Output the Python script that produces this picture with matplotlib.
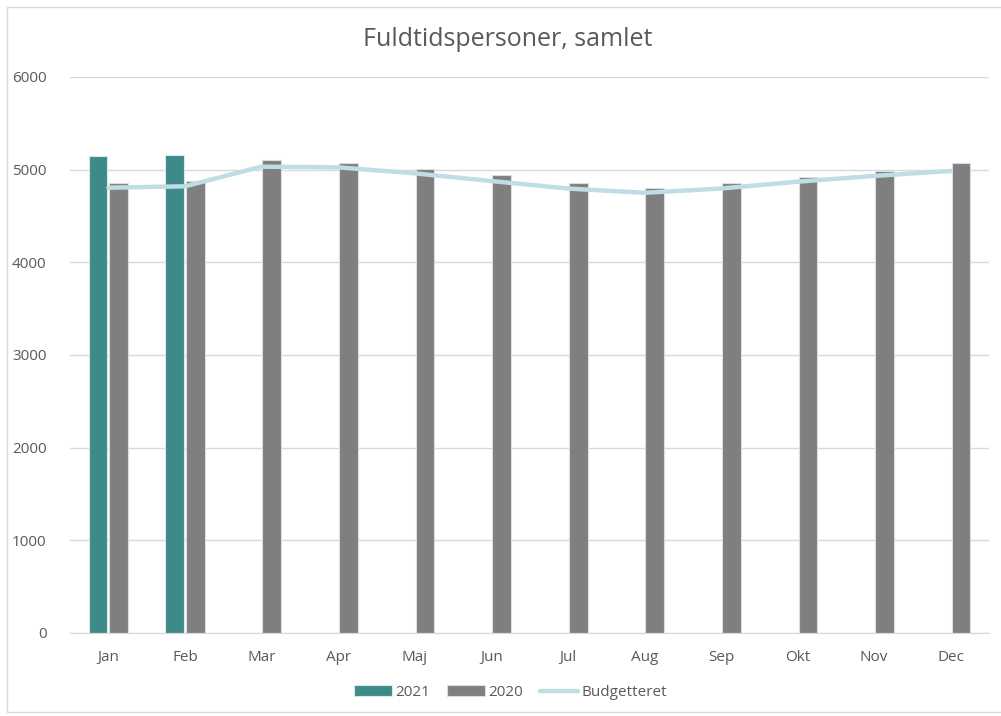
import matplotlib
matplotlib.use("Agg")
import matplotlib.pyplot as plt
import numpy as np
from matplotlib.patches import Rectangle

plt.rcParams['font.family'] = ['Open Sans', 'DejaVu Sans']

months = ['Jan', 'Feb', 'Mar', 'Apr', 'Maj', 'Jun', 'Jul', 'Aug', 'Sep', 'Okt', 'Nov', 'Dec']
v2021 = [5145, 5155]
v2020 = [4853, 4872, 5100, 5072, 5010, 4938, 4853, 4800, 4853, 4924, 4985, 5068]
budget = [4805, 4820, 5032, 5025, 4960, 4877, 4796, 4750, 4796, 4870, 4932, 4986]

fig = plt.figure(figsize=(10.01, 7.16), dpi=100)
ax = fig.add_axes([0.07, 0.116, 0.918, 0.7765])

x = np.arange(len(months))
w = 0.245
txt = '#595959'

b1 = ax.bar(x[:len(v2021)] - 0.135, v2021, w, color='#3E8A88', edgecolor='#d9e8e8',
            linewidth=0.8, label='2021', zorder=2)
b2 = ax.bar(x + 0.135, v2020, w, color='#7F7F7F', edgecolor='#dddddd',
            linewidth=0.8, label='2020', zorder=2)
ln, = ax.plot(x, budget, color='#BEDDE5', linewidth=3.2, label='Budgetteret', zorder=3,
              solid_capstyle='round', solid_joinstyle='round')

ax.set_xlim(-0.5, 11.5)
ax.set_ylim(0, 6000)
ax.set_yticks(range(0, 6001, 1000))
ax.grid(axis='y', color='#d9d9d9', linewidth=1, zorder=0)
ax.set_axisbelow(True)
for s in ['top', 'right', 'left']:
    ax.spines[s].set_visible(False)
ax.spines['bottom'].set_color('#d9d9d9')
ax.tick_params(axis='both', length=0, colors=txt, labelsize=11)
ax.tick_params(axis='x', pad=12)
ax.tick_params(axis='y', pad=17)
ax.set_xticks(x)
ax.set_xticklabels(months)

fig.text(0.507, 0.945, 'Fuldtidspersoner, samlet', ha='center', va='center',
         fontsize=18, color=txt)

leg = fig.legend([b1, b2, ln], ['2021', '2020', 'Budgetteret'], loc='center',
                 bbox_to_anchor=(0.51, 0.033), ncol=3, frameon=False,
                 fontsize=11, handlelength=2.5, handleheight=0.7, columnspacing=1.1,
                 handletextpad=0.2)
for t in leg.get_texts():
    t.set_color(txt)

fig.patches.append(Rectangle((0.007, 0.006), 1.0, 0.984, transform=fig.transFigure,
                             fill=False, edgecolor='#d9d9d9', linewidth=1))

fig.savefig('out.png', dpi=100)
